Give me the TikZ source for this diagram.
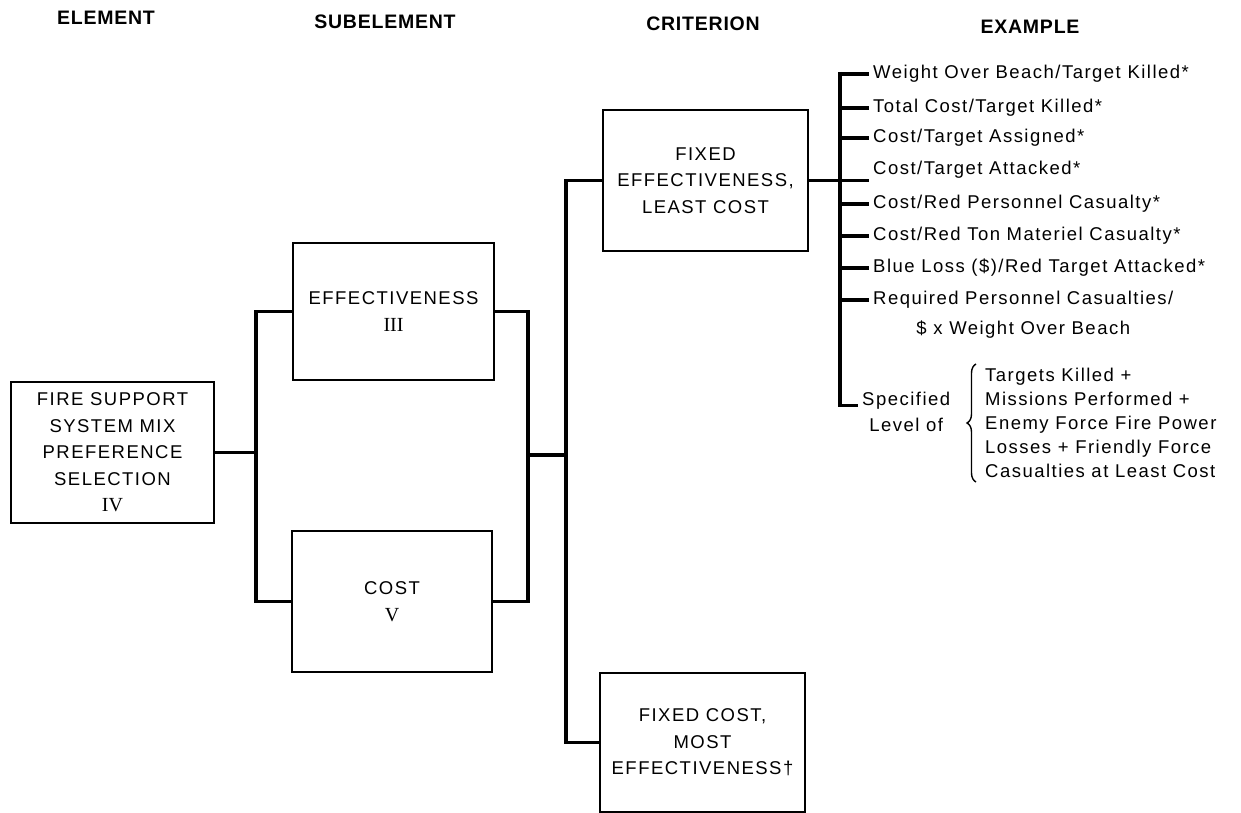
\documentclass[tikz,border=0pt]{standalone}
\usepackage{fontspec}
\setmainfont{Liberation Sans}[LetterSpace=8]
\newfontfamily\hdrfont{Liberation Sans}[LetterSpace=4]
\newfontfamily\numfont{Liberation Serif}
\newcommand{\romnum}[1]{{\numfont\fontsize{20}{26.5}\selectfont #1}}
\usetikzlibrary{positioning,decorations.pathreplacing}

\begin{document}
\begin{tikzpicture}[x=1pt, y=-1pt,
	box/.style={draw, line width=1.8pt, align=center, inner sep=0pt, font=\fontsize{18.5}{26.5}\selectfont},
	link/.style={line width=3.2pt},
	head/.style={font=\hdrfont\bfseries\fontsize{19.5}{22}\selectfont},
	item/.style={anchor=west, inner sep=4pt, font=\fontsize{18.5}{24}\selectfont}]
	\useasboundingbox (0,0) rectangle (1241,813);
	% column headings
	\node[head] (hElem) at (106,18) {ELEMENT};
	\node[head] (hSub) at (385,22) {SUBELEMENT};
	\node[head] (hCrit) at (703,24) {CRITERION};
	\node[head] (hEx) at (1030,27) {EXAMPLE};
	% boxes
	\node[box, minimum width=203pt, minimum height=141pt] (fire) at (112.5,452.5) {FIRE SUPPORT\\SYSTEM MIX\\PREFERENCE\\SELECTION\\\romnum{IV}};
	\node[box, minimum width=201pt, minimum height=137pt] (eff) at (393.5,311.5) {EFFECTIVENESS\\\romnum{III}};
	\node[box, minimum width=200pt, minimum height=141pt] (cost) at (392,601.5) {COST\\\romnum{V}};
	\node[box, minimum width=205pt, minimum height=141pt] (fixeff) at (705.5,180.5) {FIXED\\EFFECTIVENESS,\\LEAST COST};
	\node[box, minimum width=205pt, minimum height=139pt] (fixcost) at (702.5,742.5) {FIXED COST,\\MOST\\EFFECTIVENESS†};
	% junctions
	\coordinate (jl) at (256,452.5);
	\coordinate (jr) at (528,455);
	\coordinate (jc) at (566,455);
	\coordinate (spinetop) at (840,72);
	% brackets
	\draw[link] (fire.east) -- (jl);
	\draw[link] (eff.west) -| (jl) |- (cost.west);
	\draw[link] (eff.east) -| (jr) |- (cost.east);
	\draw[link] (jr) -- (jc);
	\draw[link] (fixeff.west) -| (jc) |- (fixcost.west);
	% examples
	\foreach \i/\yy/\txt in {1/74/{Weight Over Beach/Target Killed*}, 2/108/{Total Cost/Target Killed*},
			3/138/{Cost/Target Assigned*}, 4/170/{Cost/Target Attacked*}, 5/204/{Cost/Red Personnel Casualty*},
			6/236/{Cost/Red Ton Materiel Casualty*}, 7/268/{Blue Loss (\$)/Red Target Attacked*}}
		\node[item] (ex\i) at (869,\yy) {\txt};
	\node[item, align=center, font=\fontsize{18.5}{30}\selectfont] (ex8) at (869,315) {Required Personnel Casualties/\\\$ x Weight Over Beach};
	\node[item] (spec1) at (858,401) {Specified};
	\node[item, anchor=north] (spec2) at (spec1.south) {Level of};
	\node[item, align=left] (lvl) at (981,423) {Targets Killed +\\Missions Performed +\\Enemy Force Fire Power\\Losses + Friendly Force\\Casualties at Least Cost};
	\draw[link] (fixeff.east) -- (fixeff.east -| ex4.west);
	\draw[link] (spinetop) |- (spec1.base west);
	\foreach \i in {1,2,3,5,6,7}
		\draw[link] (ex\i.west -| spinetop) -- (ex\i.west);
	\draw[link] ([yshift=15pt]ex8.west -| spinetop) -- ([yshift=15pt]ex8.west);
	\draw[line width=1.4pt, decorate, decoration={brace, amplitude=9pt}] ([xshift=-5pt]lvl.south west) -- ([xshift=-5pt]lvl.north west);
\end{tikzpicture}
\end{document}
